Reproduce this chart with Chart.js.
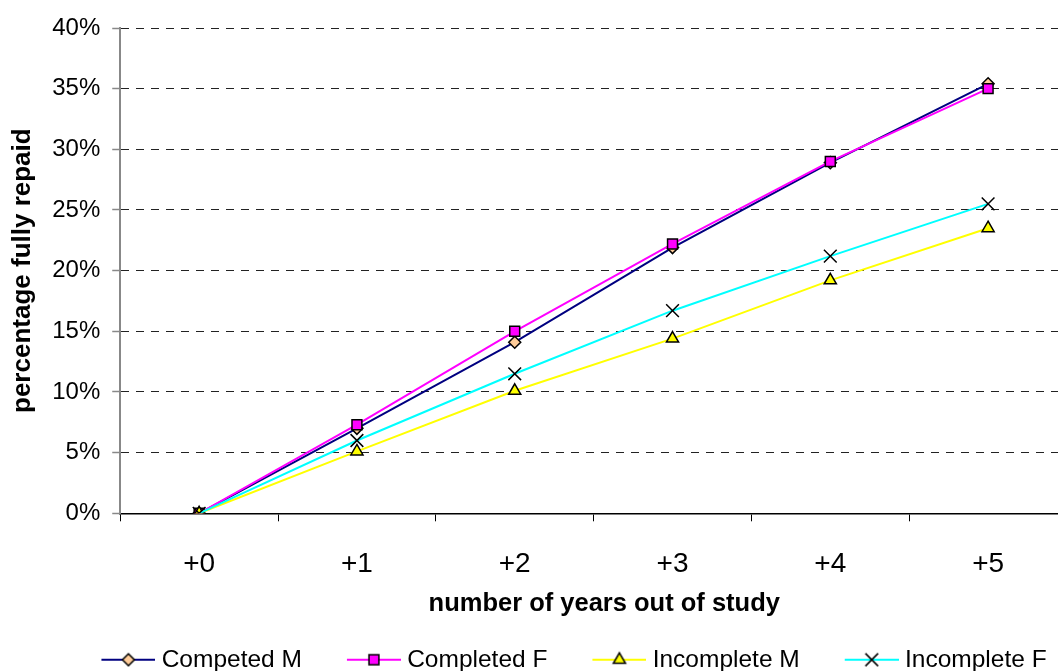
<!DOCTYPE html>
<html>
<head>
<meta charset="utf-8">
<script src="https://cdn.jsdelivr.net/npm/chart.js@4/dist/chart.umd.min.js"></script>
<style>
  html, body { margin: 0; padding: 0; background: #fff; width: 1058px; height: 671px; overflow: hidden; }
  #c { display: block; }
</style>
</head>
<body>
<canvas id="c" width="1162" height="671"></canvas>
<script>
// Years after leaving study
const categories = ['+0', '+1', '+2', '+3', '+4', '+5'];

// Share of borrowers who have fully repaid (%)
const competedM   = [0, 7.0, 14.1, 21.9, 28.9, 35.4];
const completedF  = [0, 7.3, 15.0, 22.2, 29.0, 35.0];
const incompleteM = [0, 5.1, 10.1, 14.4, 19.2, 23.5];
const incompleteF = [0, 6.0, 11.5, 16.7, 21.2, 25.5];

const seriesNames = ['Competed M', 'Completed F', 'Incomplete M', 'Incomplete F'];
const yTickMax = 40;
const yTickStep = 5;

const FONT = '"Liberation Sans", Arial, Helvetica, sans-serif';

const styles = [
  { line: '#000080', pointStyle: 'rectRot', radius: 6, fill: '#FFCC99' },
  { line: '#FF00FF', pointStyle: 'rect', radius: 7, fill: '#FF00FF' },
  { line: '#FFFF00', pointStyle: 'triangle', radius: 7, fill: '#FFFF00' },
  { line: '#00FFFF', pointStyle: 'crossRot', radius: 9, fill: '#000000' }
];
const seriesData = [competedM, completedF, incompleteM, incompleteF];

// Legend symbol: short coloured line with the series marker in its middle
function legendSymbol(st) {
  const w = 92, h = 22;
  const cv = document.createElement('canvas');
  cv.width = w; cv.height = h;
  const ctx = cv.getContext('2d');
  ctx.strokeStyle = st.line;
  ctx.lineWidth = 2;
  ctx.beginPath();
  ctx.moveTo(38, h / 2);
  ctx.lineTo(92, h / 2);
  ctx.stroke();
  ctx.fillStyle = st.fill;
  ctx.strokeStyle = '#000';
  ctx.lineWidth = 1.5;
  Chart.helpers.drawPoint(ctx, { pointStyle: st.pointStyle, radius: st.radius, rotation: 0, borderWidth: 1.5 }, 65, h / 2);
  return cv;
}
const legendSymbols = styles.map(legendSymbol);

// Moves the legend row sideways after layout
const legendShift = {
  id: 'legendShift',
  afterLayout(chart, args, opts) {
    if (chart.legend) {
      chart.legend.left += opts.dx;
      chart.legend.right += opts.dx;
    }
  }
};

const datasets = seriesNames.map((name, i) => ({
  label: name,
  data: seriesData[i],
  borderColor: styles[i].line,
  backgroundColor: styles[i].fill,
  borderWidth: 2,
  tension: 0,
  pointStyle: styles[i].pointStyle,
  pointRadius: styles[i].radius,
  pointHoverRadius: styles[i].radius,
  pointBackgroundColor: styles[i].fill,
  pointBorderColor: '#000',
  pointBorderWidth: 1.5,
  order: seriesNames.length - i
}));

new Chart(document.getElementById('c'), {
  type: 'line',
  data: { labels: categories, datasets },
  plugins: [legendShift],
  options: {
    responsive: false,
    animation: false,
    devicePixelRatio: 1,
    layout: { padding: { left: 7, right: 95, top: 28, bottom: -11 } },
    plugins: {
      tooltip: { enabled: false },
      legendShift: { dx: 21 },
      legend: {
        position: 'bottom',
        labels: {
          usePointStyle: true,
          pointStyleWidth: 80,
          padding: 13,
          color: '#000',
          font: { family: FONT, size: 24.5 },
          generateLabels: (chart) => chart.data.datasets.map((ds, i) => ({
            text: ds.label,
            pointStyle: legendSymbols[i],
            fillStyle: 'transparent',
            strokeStyle: 'transparent',
            lineWidth: 0,
            hidden: false,
            datasetIndex: i
          }))
        }
      }
    },
    scales: {
      x: {
        type: 'category',
        offset: true,
        grid: {
          offset: true,
          drawOnChartArea: false,
          drawTicks: true,
          tickLength: 8,
          tickColor: '#000',
          tickWidth: 1
        },
        border: { color: '#000', width: 1.5 },
        ticks: { color: '#000', font: { family: FONT, size: 28 }, padding: 26, maxRotation: 0 },
        title: {
          display: true,
          text: '   number of years out of study',
          color: '#000',
          font: { family: FONT, size: 25.5, weight: 'bold' },
          padding: { top: -18, bottom: 15 }
        }
      },
      y: {
        min: 0,
        max: yTickMax,
        ticks: {
          stepSize: yTickStep,
          color: '#000',
          font: { family: FONT, size: 24 },
          padding: 12,
          callback: (v) => v + '%'
        },
        grid: {
          color: '#222',
          lineWidth: 1,
          drawTicks: true,
          tickLength: 8,
          tickColor: '#888',
          tickWidth: 1.5,
          tickBorderDash: []
        },
        border: { color: '#888', width: 2, dash: [8, 7] },
        title: {
          display: true,
          text: 'percentage fully repaid',
          color: '#000',
          font: { family: FONT, size: 26, weight: 'bold' },
          padding: { top: 0, bottom: 2 }
        }
      }
    }
  }
});
</script>
</body>
</html>
